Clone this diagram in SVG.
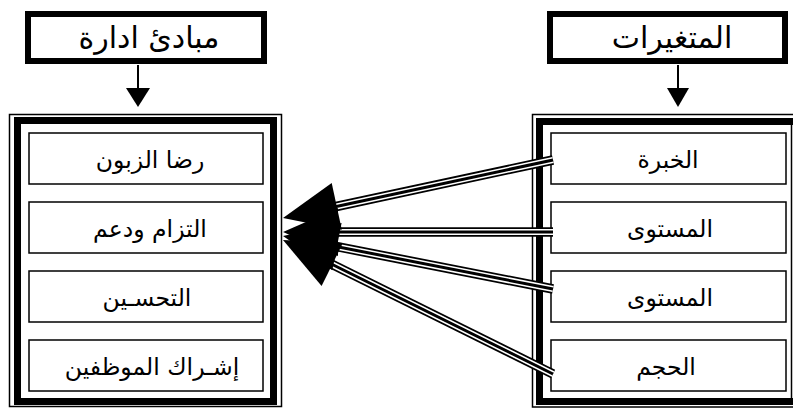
<svg xmlns="http://www.w3.org/2000/svg" width="793" height="408" viewBox="0 0 793 408">
<style>
  .title{fill:#fff;stroke:#000;stroke-width:6}
  .outer{fill:none;stroke:#000;stroke-width:1.5}
  .thick{fill:none;stroke:#000;stroke-width:7}
  .box{fill:#fff;stroke:#000;stroke-width:1.5}
  .t{font-family:"DejaVu Sans","Noto Sans",sans-serif;font-size:23.5px;fill:#000;text-anchor:middle}
  .tt{font-family:"DejaVu Sans","Noto Sans",sans-serif;font-size:30px;fill:#000;text-anchor:middle}
  .l1{stroke:#000;stroke-width:9.5;fill:none}
  .l2{stroke:#fff;stroke-width:6;fill:none}
  .l3{stroke:#000;stroke-width:3;fill:none}
  .head{fill:#000}
  .arr{stroke:#000;stroke-width:2;fill:none}
</style>
<rect width="793" height="408" fill="#fff"/>

<g id="title-left">
  <rect class="title" x="28" y="14" width="236" height="47"/>
  <text class="tt" x="149" y="48">مبادئ ادارة</text>
</g>
<g id="title-right">
  <rect class="title" x="550" y="14" width="235" height="47"/>
  <text class="tt" x="672" y="48">المتغيرات</text>
</g>

<g id="container-left">
  <rect class="outer" x="9.5" y="114.5" width="272" height="292"/>
  <rect class="thick" x="17.5" y="120.5" width="256" height="281"/>
</g>
<g id="container-right">
  <rect class="outer" x="532.5" y="114.5" width="280" height="292.5"/>
  <rect class="thick" x="539.5" y="121.5" width="280" height="280"/>
  <line class="outer" x1="791.5" y1="125" x2="791.5" y2="398"/>
</g>

<g id="node-l1"><rect class="box" x="29" y="133" width="234" height="51"/><text class="t" x="150" y="168">رضا الزبون</text></g>
<g id="node-l2"><rect class="box" x="29" y="202" width="234" height="51"/><text class="t" x="150" y="237">التزام ودعم</text></g>
<g id="node-l3"><rect class="box" x="29" y="271" width="234" height="51"/><text class="t" x="147" y="306">التحسـين</text></g>
<g id="node-l4"><rect class="box" x="29" y="340" width="234" height="51"/><text class="t" x="152" y="375">إشـراك الموظفين</text></g>

<g id="node-r1"><rect class="box" x="551" y="133" width="235" height="51"/><text class="t" x="668" y="168">الخبرة</text></g>
<g id="node-r2"><rect class="box" x="551" y="202" width="235" height="51"/><text class="t" x="670" y="237">المستوى</text></g>
<g id="node-r3"><rect class="box" x="551" y="271" width="235" height="51"/><text class="t" x="670" y="306">المستوى</text></g>
<g id="node-r4"><rect class="box" x="551" y="340" width="235" height="51"/><text class="t" x="666" y="375">الحجم</text></g>

<g id="connectors">
  <line class="arr" x1="138" y1="65" x2="138" y2="90"/>
  <polygon class="head" points="126,88 150,88 138,107"/>
  <line class="arr" x1="678" y1="65" x2="678" y2="90"/>
  <polygon class="head" points="667,88 689,88 678,107"/>

  <g id="c1">
    <line class="l1" x1="553" y1="160" x2="327" y2="208.5"/>
    <line class="l2" x1="553" y1="160" x2="327" y2="208.5"/>
    <line class="l3" x1="553" y1="160" x2="327" y2="208.5"/>
  </g>
  <g id="c2">
    <line class="l1" x1="553" y1="232" x2="328" y2="232"/>
    <line class="l2" x1="553" y1="232" x2="328" y2="232"/>
    <line class="l3" x1="553" y1="232" x2="328" y2="232"/>
  </g>
  <g id="c3">
    <line class="l1" x1="553" y1="289" x2="327" y2="244.7"/>
    <line class="l2" x1="553" y1="289" x2="327" y2="244.7"/>
    <line class="l3" x1="553" y1="289" x2="327" y2="244.7"/>
  </g>
  <g id="c4">
    <line class="l1" x1="553" y1="374" x2="323.3" y2="260"/>
    <line class="l2" x1="553" y1="374" x2="323.3" y2="260"/>
    <line class="l3" x1="553" y1="374" x2="323.3" y2="260"/>
  </g>
  <polygon class="head" points="283,218 331.7,182.9 341.8,229.8"/>
  <polygon class="head" points="283,232 338,208 338,256"/>
  <polygon class="head" points="283,236 341.6,223.1 332.3,270.2"/>
  <polygon class="head" points="283,240 342.9,243 321.6,286"/>
</g>
</svg>
